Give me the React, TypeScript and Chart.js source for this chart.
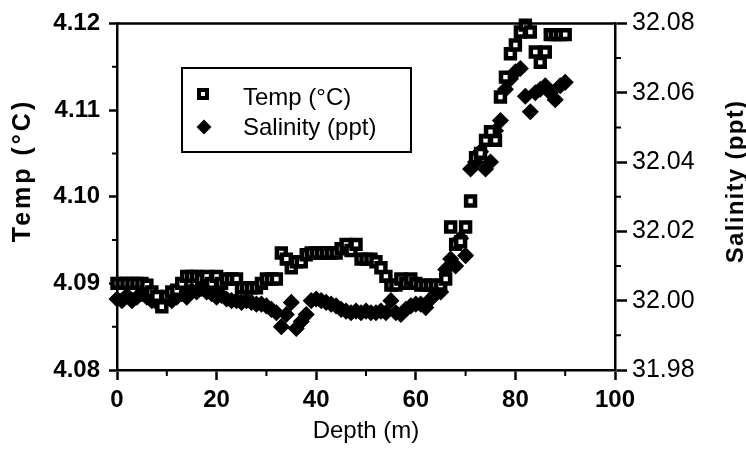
import React, { useEffect, useRef } from 'react';
import { Chart, registerables } from 'chart.js';

Chart.register(...registerables);

// ---- data ----
const depth = [
  0, 1, 2, 3, 4, 5, 6, 7, 8, 9, 10, 11, 12, 13, 14, 15, 16, 17, 18, 19,
  20, 21, 22, 23, 24, 25, 26, 27, 28, 29, 30, 31, 32, 33, 34, 35, 36, 37, 38, 39,
  40, 41, 42, 43, 44, 45, 46, 47, 48, 49, 50, 51, 52, 53, 54, 55, 56, 57, 58, 59,
  60, 61, 62, 63, 64, 65, 66, 67, 68, 69, 70, 71, 72, 73, 74, 75, 76, 77, 78, 79,
  80, 81, 82, 83, 84, 85, 86, 87, 88, 89, 90,
];

const tempC = [
  4.0900, 4.0900, 4.0900, 4.0900, 4.0900, 4.0900, 4.0898, 4.0890, 4.0885, 4.0873,
  4.0885, 4.0890, 4.0892, 4.0900, 4.0908, 4.0908, 4.0908, 4.0905, 4.0908, 4.0900,
  4.0908, 4.0900, 4.0905, 4.0905, 4.0905, 4.0895, 4.0895, 4.0895, 4.0895, 4.0900,
  4.0905, 4.0905, 4.0905, 4.0935, 4.0928, 4.0918, 4.0925, 4.0925, 4.0933, 4.0935,
  4.0935, 4.0935, 4.0935, 4.0935, 4.0935, 4.0940, 4.0945, 4.0938, 4.0945, 4.0928,
  4.0928, 4.0928, 4.0925, 4.0918, 4.0908, 4.0898, 4.0898, 4.0905, 4.0900, 4.0905,
  4.0900, 4.0898, 4.0898, 4.0898, 4.0898, 4.0898, 4.0905, 4.0965, 4.0945, 4.0948,
  4.0965, 4.0995, 4.1045, 4.1050, 4.1065, 4.1075, 4.1065, 4.1115, 4.1138, 4.1165,
  4.1175, 4.1190, 4.1198, 4.1190, 4.1167, 4.1155, 4.1167, 4.1187, 4.1187, 4.1187,
  4.1187,
];

const salinity = [
  32.0005, 32.0000, 32.0015, 32.0000, 32.0010, 32.0020, 32.0010, 32.0000, 31.9995, 32.0000,
  32.0010, 32.0000, 32.0010, 32.0020, 32.0010, 32.0030, 32.0025, 32.0035, 32.0025, 32.0020,
  32.0010, 32.0015, 32.0005, 32.0000, 32.0000, 31.9995, 32.0000, 31.9995, 31.9990, 31.9990,
  31.9985, 31.9975, 31.9965, 31.9925, 31.9960, 31.9995, 31.9920, 31.9940, 31.9960, 32.0000,
  32.0005, 32.0000, 31.9995, 31.9990, 31.9985, 31.9975, 31.9970, 31.9965, 31.9970, 31.9965,
  31.9970, 31.9965, 31.9965, 31.9970, 31.9965, 32.0000, 31.9965, 31.9960, 31.9975, 31.9985,
  31.9990, 31.9990, 31.9980, 32.0005, 32.0020, 32.0025, 32.0090, 32.0120, 32.0100, 32.0180,
  32.0130, 32.0380, 32.0400, 32.0430, 32.0380, 32.0400, 32.0490, 32.0520, 32.0610, 32.0640,
  32.0660, 32.0670, 32.0590, 32.0545, 32.0600, 32.0610, 32.0620, 32.0600, 32.0580, 32.0620,
  32.0630,
];

const depthTicks = [0, 20, 40, 60, 80, 100];
const depthMinor = [10, 30, 50, 70, 90];
const tempTicks = [4.08, 4.09, 4.1, 4.11, 4.12];
const tempMinor = [4.085, 4.095, 4.105, 4.115];
const salTicks = [31.98, 32.0, 32.02, 32.04, 32.06, 32.08];
const salMinor = [31.99, 32.01, 32.03, 32.05, 32.07];

const tempLabel = 'Temp (°C)';
const salLabel = 'Salinity (ppt)';
const depthLabel = 'Depth (m)';

const FONT = '"Liberation Sans", Arial, Helvetica, sans-serif';

const decorPlugin = {
  id: 'decor',
  afterDraw(chart: any) {
    const ctx = chart.ctx as CanvasRenderingContext2D;
    const { left, right, top, bottom } = chart.chartArea;
    const sx = chart.scales.x;
    const sT = chart.scales.yT;
    const sS = chart.scales.yS;
    ctx.save();
    ctx.strokeStyle = '#000';
    ctx.fillStyle = '#000';
    // top frame line
    ctx.lineWidth = 2.5;
    ctx.beginPath();
    ctx.moveTo(left - 1, top);
    ctx.lineTo(right + 1, top);
    ctx.stroke();
    // minor ticks
    ctx.lineWidth = 2;
    ctx.beginPath();
    depthMinor.forEach((v) => {
      const px = sx.getPixelForValue(v);
      ctx.moveTo(px, bottom);
      ctx.lineTo(px, bottom + 6);
    });
    tempMinor.forEach((v) => {
      const py = sT.getPixelForValue(v);
      ctx.moveTo(left - 5, py);
      ctx.lineTo(left, py);
    });
    salMinor.forEach((v) => {
      const py = sS.getPixelForValue(v);
      ctx.moveTo(right, py);
      ctx.lineTo(right + 6, py);
    });
    ctx.stroke();

    // y axis titles (both read bottom-to-top)
    ctx.textAlign = 'center';
    ctx.textBaseline = 'middle';
    ctx.save();
    ctx.font = `bold 25px ${FONT}`;
    ctx.translate(23, 172);
    ctx.rotate(-Math.PI / 2);
    (ctx as any).letterSpacing = '3px';
    ctx.fillText(tempLabel, 1.5, 0);
    ctx.restore();
    ctx.save();
    ctx.font = `bold 24px ${FONT}`;
    ctx.translate(736, 182);
    ctx.rotate(-Math.PI / 2);
    (ctx as any).letterSpacing = '1.3px';
    ctx.fillText(salLabel, 0.5, 0);
    ctx.restore();

    // legend box
    ctx.lineWidth = 2;
    ctx.strokeRect(182, 68, 229, 84);
    // temp marker
    ctx.fillStyle = '#fff';
    ctx.lineWidth = 4;
    ctx.fillRect(199, 90, 8, 8);
    ctx.strokeRect(199, 90, 8, 8);
    // salinity marker
    ctx.fillStyle = '#000';
    ctx.beginPath();
    ctx.moveTo(204, 119.5);
    ctx.lineTo(211.5, 127);
    ctx.lineTo(204, 134.5);
    ctx.lineTo(196.5, 127);
    ctx.closePath();
    ctx.fill();
    ctx.font = `24px ${FONT}`;
    ctx.textAlign = 'left';
    ctx.fillText(tempLabel, 243, 98);
    ctx.fillText(salLabel, 243, 128);
    ctx.restore();
  },
};

export default function App() {
  const ref = useRef<HTMLCanvasElement>(null);

  useEffect(() => {
    const canvas = ref.current;
    if (!canvas) return;
    const chart = new Chart(canvas, {
      type: 'scatter',
      data: {
        datasets: [
          {
            label: tempLabel,
            data: depth.map((d, i) => ({ x: d, y: tempC[i] })),
            yAxisID: 'yT',
            pointStyle: 'rect',
            pointRadius: 6.3,
            pointBorderWidth: 4.5,
            pointBackgroundColor: '#fff',
            pointBorderColor: '#000',
            showLine: false,
            clip: false,
            order: 0,
          },
          {
            label: salLabel,
            data: depth.map((d, i) => ({ x: d, y: salinity[i] })),
            yAxisID: 'yS',
            pointStyle: 'rectRot',
            pointRadius: 7.5,
            pointBorderWidth: 1.5,
            pointBackgroundColor: '#000',
            pointBorderColor: '#000',
            showLine: false,
            clip: false,
            order: 1,
          },
        ],
      },
      options: {
        responsive: false,
        animation: false,
        events: [],
        layout: { padding: { top: 18, left: 0, right: 0, bottom: 0 } },
        plugins: {
          legend: { display: false },
          tooltip: { enabled: false },
        },
        scales: {
          x: {
            type: 'linear',
            position: 'bottom',
            min: 0,
            max: 100,
            afterBuildTicks: (s: any) => {
              s.ticks = depthTicks.map((v) => ({ value: v }));
            },
            afterFit: (s: any) => {
              s.height = 81;
            },
            ticks: {
              color: '#000',
              font: { family: FONT, size: 24, weight: 'bold' },
              padding: 6,
              maxRotation: 0,
              autoSkip: false,
              callback: (v: any) => String(v),
            },
            grid: {
              drawOnChartArea: false,
              drawTicks: true,
              tickLength: 10,
              tickWidth: 2.5,
              tickColor: '#000',
            },
            border: { display: true, color: '#000', width: 2.5 },
            title: {
              display: true,
              text: depthLabel,
              color: '#000',
              font: { family: FONT, size: 24, weight: 'normal' },
              padding: { top: 0, bottom: 5 },
            },
          },
          yT: {
            type: 'linear',
            position: 'left',
            min: 4.08,
            max: 4.12,
            afterBuildTicks: (s: any) => {
              s.ticks = tempTicks.map((v) => ({ value: v }));
            },
            afterFit: (s: any) => {
              s.width = 117;
            },
            ticks: {
              color: '#000',
              font: { family: FONT, size: 24, weight: 'bold' },
              padding: 9,
              autoSkip: false,
              callback: (v: any) => Number(v).toFixed(2),
            },
            grid: {
              drawOnChartArea: false,
              drawTicks: true,
              tickLength: 8,
              tickWidth: 2.5,
              tickColor: '#000',
            },
            border: { display: true, color: '#000', width: 2.5 },
          },
          yS: {
            type: 'linear',
            position: 'right',
            min: 31.98,
            max: 32.08,
            afterBuildTicks: (s: any) => {
              s.ticks = salTicks.map((v) => ({ value: v }));
            },
            afterFit: (s: any) => {
              s.width = 131;
            },
            ticks: {
              color: '#000',
              font: { family: FONT, size: 25, weight: 'normal' },
              padding: 5,
              autoSkip: false,
              callback: (v: any) => Number(v).toFixed(2),
            },
            grid: {
              drawOnChartArea: false,
              drawTicks: true,
              tickLength: 12,
              tickWidth: 2.5,
              tickColor: '#000',
            },
            border: { display: true, color: '#000', width: 2.5 },
          },
        },
      } as any,
      plugins: [decorPlugin],
    });
    return () => chart.destroy();
  }, []);

  return (
    <div style={{ position: 'fixed', left: 0, top: 0, width: 746, height: 451, background: '#fff' }}>
      <canvas ref={ref} width={746} height={451} style={{ display: 'block' }} />
    </div>
  );
}
